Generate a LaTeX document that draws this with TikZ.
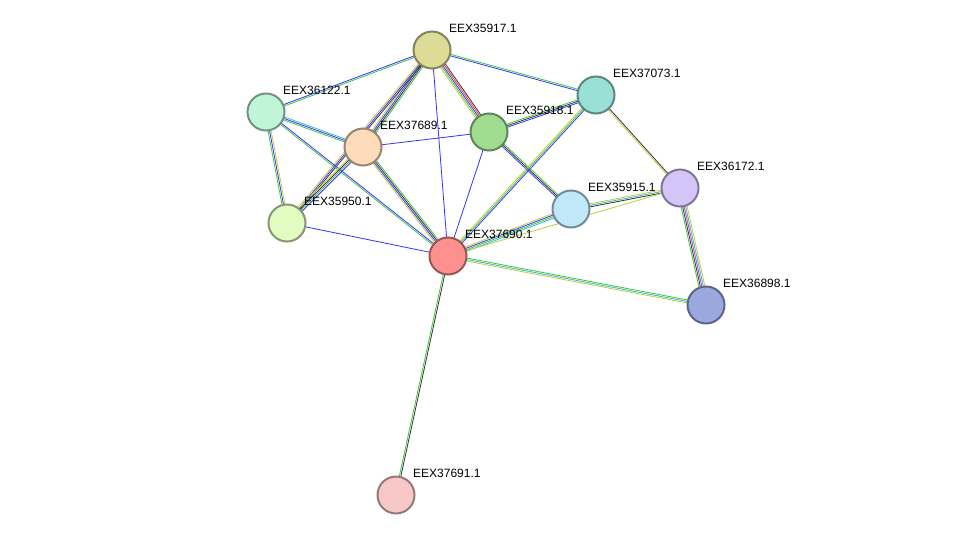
\documentclass[tikz,border=0pt]{standalone}
\usepackage{fontspec}
\setmainfont{Liberation Sans}
\usetikzlibrary{calc}
\usetikzlibrary{backgrounds}

\definecolor{eg}{HTML}{3DC63D}
\definecolor{eb}{HTML}{3333FF}
\definecolor{ek}{HTML}{333333}
\definecolor{ey}{HTML}{C8C83C}
\definecolor{ec}{HTML}{33BBCC}
\definecolor{er}{HTML}{FF3333}
\definecolor{em}{HTML}{CC33CC}
\definecolor{c917}{HTML}{DCDC96}
\definecolor{c073}{HTML}{99E0D6}
\definecolor{c122}{HTML}{C0F5D8}
\definecolor{c689}{HTML}{FEDCBB}
\definecolor{c918}{HTML}{A0DD90}
\definecolor{c172}{HTML}{D4C4F8}
\definecolor{c915}{HTML}{C0E8F8}
\definecolor{c950}{HTML}{E2FBC0}
\definecolor{c690}{HTML}{FF9090}
\definecolor{c898}{HTML}{9BA8E0}
\definecolor{c691}{HTML}{F8C8C8}

% protein node with its label
\newcommand\prot[5]{%
  \node[protein, fill=#4, draw=#4!60!black] (#1) at (#2,#3) {};
  \node[lbl] (#1-l) at ($(#1)+(17,-22)$) {#5};
}
% multi-coloured link
\newcommand\lnk[4]{%
  \foreach \c [count=\i] in {#4} {
    \pgfmathsetmacro\off{(\i-(#3+1)/2)*1.5}
    \draw[\c, line width=0.8pt] ($(#1)!\off pt!90:(#2)$) -- ($(#2)!\off pt!-90:(#1)$);
  }
}

\begin{document}
\begin{tikzpicture}[x=1pt, y=-1pt]
    \tikzstyle{protein}=[circle, minimum size=37pt, inner sep=0pt, line width=2pt]
    \tikzstyle{lbl}=[anchor=west, inner sep=0pt, font=\fontsize{12}{14}\selectfont]
    \useasboundingbox (0,0) rectangle (976,541);

    % Proteins
    \prot{p917}{432}{50}{c917}{EEX35917.1}
    \prot{p073}{596}{95}{c073}{EEX37073.1}
    \prot{p122}{266}{112}{c122}{EEX36122.1}
    \prot{p689}{363}{147}{c689}{EEX37689.1}
    \prot{p918}{489}{132}{c918}{EEX35918.1}
    \prot{p172}{680}{188}{c172}{EEX36172.1}
    \prot{p915}{571}{209}{c915}{EEX35915.1}
    \prot{p950}{287}{223}{c950}{EEX35950.1}
    \prot{p690}{448}{256}{c690}{EEX37690.1}
    \prot{p898}{706}{305}{c898}{EEX36898.1}
    \prot{p691}{396}{495}{c691}{EEX37691.1}

    % Links
    \begin{scope}[on background layer]
      \lnk{p917}{p122}{2}{eb,eg}
      \lnk{p917}{p073}{2}{eb,eg}
      \lnk{p917}{p689}{4}{ey,eb,ek,eg}
      \lnk{p917}{p918}{5}{ey,eg,eb,er,ek}
      \lnk{p917}{p950}{3}{ey,eb,ek}
      \lnk{p917}{p690}{1}{eb}
      \lnk{p122}{p689}{3}{eg,eb,ec}
      \lnk{p122}{p950}{3}{eg,eb,ey}
      \lnk{p122}{p690}{2}{eg,eb}
      \lnk{p689}{p918}{1}{eb}
      \lnk{p689}{p690}{4}{ey,eb,ek,eg}
      \lnk{p689}{p950}{4}{ey,ek,eg,eb}
      \lnk{p918}{p073}{3}{eb,ek,eg}
      \lnk{p918}{p690}{1}{eb}
      \lnk{p918}{p915}{3}{eb,ek,eg}
      \lnk{p073}{p690}{3}{ey,eg,eb}
      \lnk{p073}{p172}{2}{ey,ek}
      \lnk{p915}{p172}{3}{ek,ec,ey}
      \lnk{p915}{p690}{4}{ey,eb,eg,ec}
      \lnk{p172}{p690}{1}{ey}
      \lnk{p172}{p898}{5}{eg,ek,em,ec,ey}
      \lnk{p690}{p898}{3}{ey,ec,eg}
      \lnk{p690}{p950}{1}{eb}
      \lnk{p690}{p691}{2}{eg,ek}
    \end{scope}
\end{tikzpicture}
\end{document}
